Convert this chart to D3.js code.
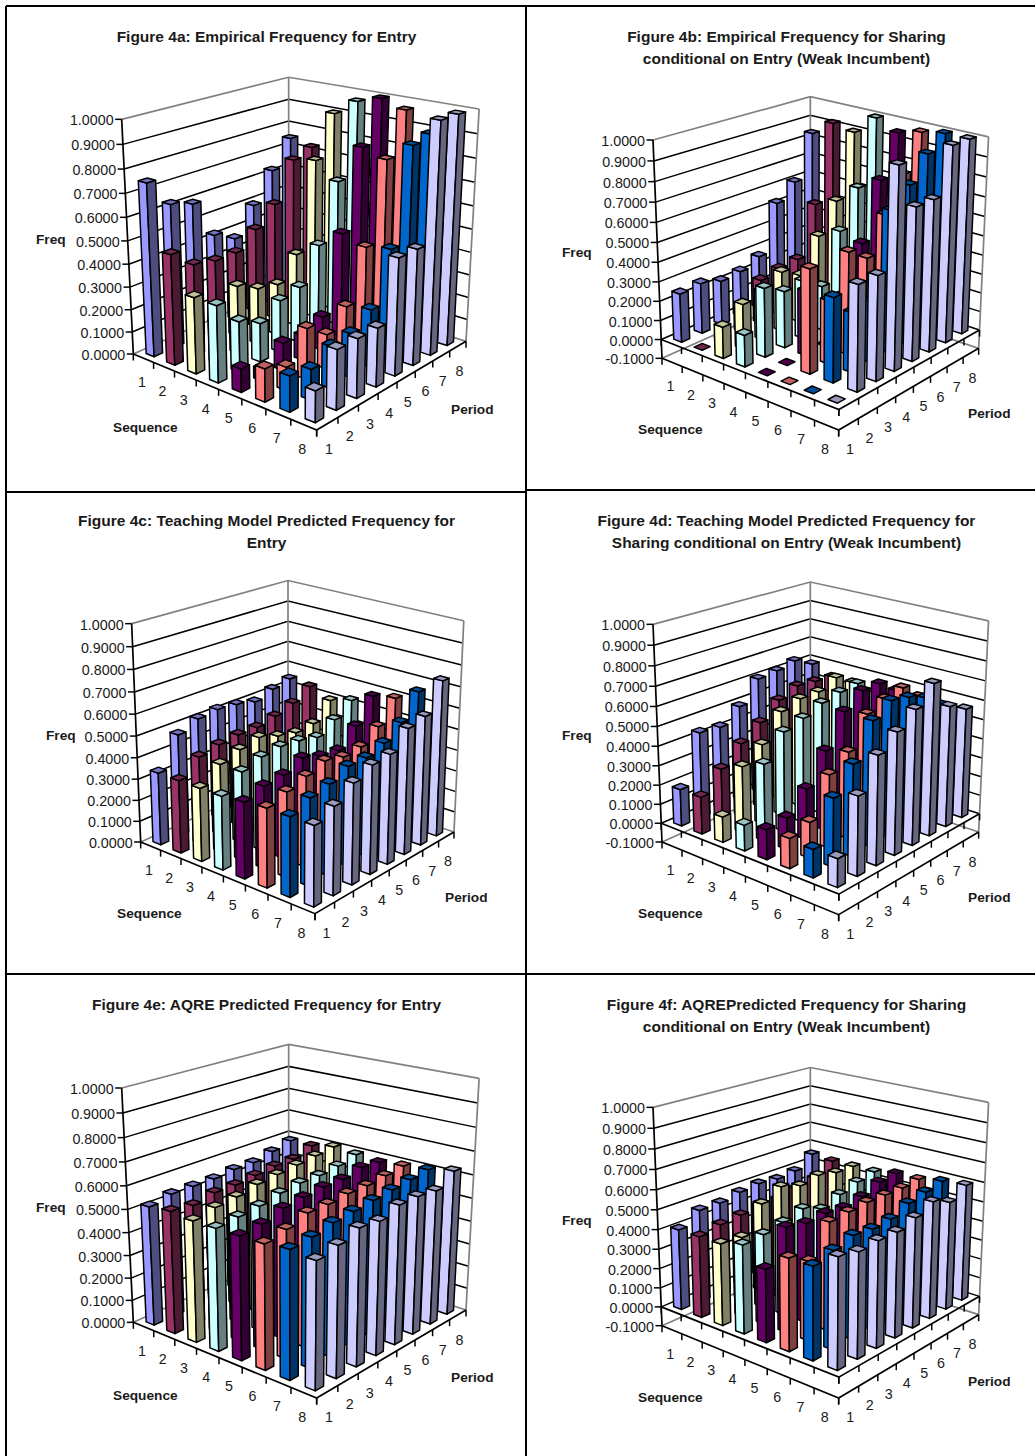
<!DOCTYPE html>
<html>
<head>
<meta charset="utf-8">
<style>
body { margin: 0; background: #fff; }
text { font-family: "Liberation Sans", Arial, sans-serif; fill: #1a1a1a; }
</style>
<script src="https://cdn.jsdelivr.net/npm/d3@7"></script>
</head>
<body>
<svg id="chart" width="1035" height="1456"></svg>
<script>
// Category labels and tick values
var sequences = [1, 2, 3, 4, 5, 6, 7, 8];
var periods = [1, 2, 3, 4, 5, 6, 7, 8];
var ticksPos = [0, 0.1, 0.2, 0.3, 0.4, 0.5, 0.6, 0.7, 0.8, 0.9, 1];
var ticksNeg = [-0.1, 0, 0.1, 0.2, 0.3, 0.4, 0.5, 0.6, 0.7, 0.8, 0.9, 1];
var seqColors = ["#9999FF", "#993366", "#FFFFCC", "#CCFFFF", "#660066", "#FF8080", "#0066CC", "#CCCCFF"];

// Frequencies, one row per sequence, one value per period
var fig4a = [
    [0.75, 0.63, 0.60, 0.43, 0.38, 0.50, 0.63, 0.75],
    [0.48, 0.40, 0.38, 0.38, 0.45, 0.53, 0.70, 0.73],
    [0.33, 0.20, 0.30, 0.25, 0.23, 0.33, 0.72, 0.90],
    [0.33, 0.22, 0.17, 0.23, 0.25, 0.40, 0.65, 0.97],
    [0.10, 0.05, 0.12, 0.11, 0.15, 0.48, 0.82, 1.00],
    [0.14, 0.10, 0.22, 0.15, 0.23, 0.45, 0.79, 0.97],
    [0.15, 0.13, 0.18, 0.19, 0.25, 0.47, 0.87, 0.89],
    [0.13, 0.25, 0.25, 0.25, 0.50, 0.50, 0.99, 0.99]
];
var fig4b = [
    [0.25, 0.26, 0.23, 0.24, 0.28, 0.53, 0.61, 0.84],
    [0.00, 0.01, 0.11, 0.23, 0.25, 0.26, 0.52, 0.92],
    [0.16, 0.23, 0.25, 0.31, 0.25, 0.42, 0.57, 0.90],
    [0.16, 0.35, 0.29, 0.30, 0.23, 0.48, 0.67, 1.00],
    [0.00, 0.00, 0.33, 0.00, 0.22, 0.45, 0.74, 0.95],
    [0.00, 0.52, 0.32, 0.52, 0.45, 0.63, 0.80, 0.98],
    [0.00, 0.42, 0.30, 0.31, 0.72, 0.81, 0.93, 1.00],
    [0.00, 0.52, 0.52, 1.00, 0.77, 0.77, 1.00, 1.00]
];
var fig4c = [
    [0.34, 0.48, 0.52, 0.53, 0.52, 0.50, 0.53, 0.55],
    [0.34, 0.41, 0.43, 0.44, 0.44, 0.46, 0.49, 0.54],
    [0.34, 0.41, 0.44, 0.46, 0.43, 0.41, 0.42, 0.50],
    [0.34, 0.41, 0.44, 0.45, 0.44, 0.42, 0.47, 0.53],
    [0.35, 0.38, 0.39, 0.43, 0.40, 0.39, 0.47, 0.58],
    [0.36, 0.39, 0.42, 0.45, 0.43, 0.44, 0.50, 0.60],
    [0.36, 0.40, 0.42, 0.46, 0.46, 0.49, 0.55, 0.66],
    [0.36, 0.40, 0.46, 0.50, 0.51, 0.59, 0.61, 0.74]
];
var fig4d = [
    [0.19, 0.44, 0.43, 0.50, 0.61, 0.62, 0.64, 0.59],
    [0.19, 0.29, 0.38, 0.45, 0.53, 0.57, 0.56, 0.55],
    [0.13, 0.34, 0.41, 0.54, 0.57, 0.57, 0.61, 0.55],
    [0.13, 0.39, 0.51, 0.54, 0.58, 0.60, 0.61, 0.53],
    [0.15, 0.16, 0.26, 0.41, 0.57, 0.64, 0.64, 0.57],
    [0.15, 0.18, 0.37, 0.44, 0.59, 0.63, 0.65, 0.57],
    [0.14, 0.34, 0.46, 0.63, 0.69, 0.67, 0.63, 0.56],
    [0.14, 0.39, 0.54, 0.61, 0.68, 0.77, 0.62, 0.57]
];
var fig4e = [
    [0.52, 0.54, 0.54, 0.54, 0.55, 0.55, 0.57, 0.59],
    [0.53, 0.52, 0.54, 0.54, 0.55, 0.56, 0.56, 0.59],
    [0.52, 0.54, 0.55, 0.57, 0.58, 0.59, 0.60, 0.61],
    [0.52, 0.53, 0.54, 0.56, 0.57, 0.57, 0.58, 0.60],
    [0.52, 0.53, 0.56, 0.57, 0.58, 0.58, 0.60, 0.59],
    [0.52, 0.54, 0.57, 0.57, 0.58, 0.58, 0.59, 0.60],
    [0.53, 0.54, 0.56, 0.57, 0.58, 0.59, 0.60, 0.61],
    [0.52, 0.54, 0.57, 0.56, 0.59, 0.59, 0.58, 0.63]
];
var fig4f = [
    [0.41, 0.47, 0.47, 0.49, 0.50, 0.49, 0.50, 0.56],
    [0.41, 0.43, 0.44, 0.45, 0.45, 0.47, 0.49, 0.55],
    [0.41, 0.40, 0.53, 0.58, 0.55, 0.57, 0.55, 0.55],
    [0.44, 0.45, 0.47, 0.50, 0.46, 0.50, 0.53, 0.55],
    [0.36, 0.52, 0.50, 0.51, 0.50, 0.52, 0.56, 0.57],
    [0.45, 0.39, 0.54, 0.55, 0.56, 0.56, 0.56, 0.57],
    [0.45, 0.48, 0.51, 0.50, 0.51, 0.55, 0.57, 0.59],
    [0.53, 0.51, 0.52, 0.52, 0.55, 0.59, 0.55, 0.60]
];

// Layout of each panel: box corners are measured on a 3x grid from the panel origin
var panels = [
    { values: fig4a, ticks: ticksPos, x: 0, y: 0, title: ["Figure 4a: Empirical Frequency for Entry"], titleX: 266.5, titleY: 41.5,
      L: [400, 1062], F: [950, 1290], R: [1398, 1024], B: [866, 855], T: [365, 358],
      freq: [36, 244], seq: [113, 431.5], per: [451, 414] },
    { values: fig4b, ticks: ticksNeg, x: 527, y: 0, title: ["Figure 4b: Empirical Frequency for Sharing", "conditional on Entry (Weak Incumbent)"], titleX: 786.5, titleY: 41.5,
      L: [405, 1075], F: [935, 1290], R: [1355, 1045], B: [850, 876], T: [378, 420],
      freq: [562, 256.5], seq: [638, 434], per: [968, 418] },
    { values: fig4c, ticks: ticksPos, x: 0, y: 492, title: ["Figure 4c: Teaching Model Predicted Frequency for", "Entry"], titleX: 266.5, titleY: 525.5,
      L: [422, 1050], F: [945, 1265], R: [1362, 1020], B: [864, 851], T: [395, 395],
      freq: [46, 740], seq: [117, 918], per: [445, 902] },
    { values: fig4d, ticks: ticksNeg, x: 527, y: 492, title: ["Figure 4d: Teaching Model Predicted Frequency for", "Sharing conditional on Entry (Weak Incumbent)"], titleX: 786.5, titleY: 525.5,
      L: [405, 1050], F: [935, 1268], R: [1355, 1020], B: [850, 851], T: [378, 397],
      freq: [562, 740], seq: [638, 918], per: [968, 902] },
    { values: fig4e, ticks: ticksPos, x: 0, y: 974, title: ["Figure 4e: AQRE Predicted Frequency for Entry"], titleX: 266.5, titleY: 1009.5,
      L: [400, 1045], F: [950, 1272], R: [1398, 1008], B: [866, 837], T: [365, 342],
      freq: [36, 1212], seq: [113, 1400], per: [451, 1382] },
    { values: fig4f, ticks: ticksNeg, x: 527, y: 974, title: ["Figure 4f: AQREPredicted Frequency for Sharing", "conditional on Entry (Weak Incumbent)"], titleX: 786.5, titleY: 1009.5,
      L: [405, 1055], F: [935, 1272], R: [1355, 1022], B: [850, 858], T: [378, 400],
      freq: [562, 1224.5], seq: [638, 1402], per: [968, 1386] }
];

var svg = d3.select("#chart");
var path = d3.line();

// Sequence runs along left corner -> front corner, period along front corner -> right corner
var xScale = d3.scaleBand().domain(sequences).range([0, 1]).paddingInner(0.61).paddingOuter(0.305);
var zScale = d3.scaleBand().domain(periods).range([0, 1]).paddingInner(0.61).paddingOuter(0.305);

// Perspective mapping of the unit box, solved from the measured corners
function makeProjection(p) {
    var a1 = p.R[0] - p.F[0], b1 = p.R[0] - p.B[0], r1 = p.F[0] + p.B[0] - p.L[0] - p.R[0];
    var a2 = p.R[1] - p.F[1], b2 = p.R[1] - p.B[1], r2 = p.F[1] + p.B[1] - p.L[1] - p.R[1];
    var det = a1 * b2 - a2 * b1;
    var c0 = (r1 * b2 - r2 * b1) / det;
    var c1 = (a1 * r2 - a2 * r1) / det;
    var c2 = (p.T[0] - p.L[0]) / (p.B[0] - p.T[0]);
    return function(u, v, w) {
        var d = 1 + c0 * u + c1 * v + c2 * w;
        var px = (p.L[0] + u * (p.F[0] * (1 + c0) - p.L[0]) + v * (p.B[0] * (1 + c1) - p.L[0]) + w * (p.T[0] * (1 + c2) - p.L[0])) / d;
        var py = (p.L[1] + u * (p.F[1] * (1 + c0) - p.L[1]) + v * (p.B[1] * (1 + c1) - p.L[1]) + w * (p.T[1] * (1 + c2) - p.L[1])) / d;
        return [p.x + px / 3, p.y + py / 3];
    };
}

function shade(color, k) {
    var c = d3.rgb(color);
    return d3.rgb(c.r * k, c.g * k, c.b * k).formatHex();
}

function drawPanel(p) {
    var g = svg.append("g");
    var project = makeProjection(p);
    var yMin = p.ticks[0];
    var yScale = d3.scaleLinear().domain([yMin, 1]).range([0, 1]);

    // Gridlines on the two back walls
    p.ticks.forEach(function(t) {
        var w = yScale(t);
        var edge = t === yMin || t === 1;
        g.append("path")
            .attr("d", path([project(0, 0, w), project(0, 1, w), project(1, 1, w)]))
            .attr("fill", "none")
            .attr("stroke", edge ? "#808080" : "#000")
            .attr("stroke-width", edge ? 1.7 : 1.5);
    });
    [[0, 1], [1, 1]].forEach(function(c) {
        g.append("path")
            .attr("d", path([project(c[0], c[1], 0), project(c[0], c[1], 1)]))
            .attr("stroke", "#808080")
            .attr("stroke-width", 1.7);
    });

    // Value axis with ticks and labels
    g.append("path")
        .attr("d", path([project(0, 0, 0), project(0, 0, 1)]))
        .attr("stroke", "#000")
        .attr("stroke-width", 1.7);
    p.ticks.forEach(function(t) {
        var pt = project(0, 0, yScale(t));
        g.append("path")
            .attr("d", path([pt, [pt[0] - 6.5, pt[1]]]))
            .attr("stroke", "#000")
            .attr("stroke-width", 1.5);
        g.append("text")
            .attr("x", pt[0] - 8)
            .attr("y", pt[1] + 6)
            .attr("text-anchor", "end")
            .attr("font-size", 14.3)
            .text(t.toFixed(4));
    });

    // Floor edges with category ticks, at the box floor and again at zero
    var levels = yMin < 0 ? [yMin, 0] : [0];
    levels.forEach(function(level) {
        var w = yScale(level);
        g.append("path")
            .attr("d", path([project(0, 0, w), project(1, 0, w), project(1, 1, w)]))
            .attr("fill", "none")
            .attr("stroke", "#000")
            .attr("stroke-width", 1.7);
        d3.range(9).forEach(function(i) {
            var a = project(i / 8, 0, w);
            var b = project(1, i / 8, w);
            [a, b].forEach(function(pt) {
                g.append("path")
                    .attr("d", path([pt, [pt[0], pt[1] + 6.5]]))
                    .attr("stroke", "#000")
                    .attr("stroke-width", 1.5);
            });
        });
    });

    // Category labels sit below the lower axis edge
    var floorW = yScale(yMin);
    sequences.forEach(function(s, i) {
        var pt = project((i + 0.5) / 8, 0, floorW);
        g.append("text")
            .attr("x", pt[0] - 1.5)
            .attr("y", pt[1] + 29)
            .attr("text-anchor", "middle")
            .attr("font-size", 14.3)
            .text(s);
    });
    periods.forEach(function(d, i) {
        var pt = project(1, (i + 0.5) / 8, floorW);
        g.append("text")
            .attr("x", pt[0] + 1.5)
            .attr("y", pt[1] + 30)
            .attr("text-anchor", "middle")
            .attr("font-size", 14.3)
            .text(d);
    });

    // Bars, painted from the back corner to the front corner
    var bars = [];
    sequences.forEach(function(s, i) {
        periods.forEach(function(d, j) {
            bars.push({ seq: s, period: d, i: i, j: j, value: p.values[i][j] });
        });
    });
    bars.sort(function(a, b) { return a.i - b.i || b.j - a.j; });

    var base = yScale(0);
    var bar = g.selectAll("g.bar")
        .data(bars)
        .enter()
        .append("g")
        .attr("class", "bar")
        .attr("stroke", "#000")
        .attr("stroke-width", 1.5)
        .attr("stroke-linejoin", "round");

    function corners(d) {
        return {
            u0: xScale(d.seq), u1: xScale(d.seq) + xScale.bandwidth(),
            v0: zScale(d.period), v1: zScale(d.period) + zScale.bandwidth(),
            w: yScale(d.value)
        };
    }
    // Left face
    bar.filter(function(d) { return d.value > 0; })
        .append("path")
        .attr("fill", function(d) { return seqColors[d.i]; })
        .attr("d", function(d) {
            var c = corners(d);
            return path([project(c.u0, c.v0, base), project(c.u1, c.v0, base), project(c.u1, c.v0, c.w), project(c.u0, c.v0, c.w)]) + "Z";
        });
    // Right face
    bar.filter(function(d) { return d.value > 0; })
        .append("path")
        .attr("fill", function(d) { return shade(seqColors[d.i], 0.5); })
        .attr("d", function(d) {
            var c = corners(d);
            return path([project(c.u1, c.v0, base), project(c.u1, c.v1, base), project(c.u1, c.v1, c.w), project(c.u1, c.v0, c.w)]) + "Z";
        });
    // Top face
    bar.append("path")
        .attr("fill", function(d) { return shade(seqColors[d.i], 0.76); })
        .attr("d", function(d) {
            var c = corners(d);
            return path([project(c.u0, c.v0, c.w), project(c.u1, c.v0, c.w), project(c.u1, c.v1, c.w), project(c.u0, c.v1, c.w)]) + "Z";
        });

    // Titles and axis names
    p.title.forEach(function(line, i) {
        g.append("text")
            .attr("x", p.titleX)
            .attr("y", p.titleY + i * 22)
            .attr("text-anchor", "middle")
            .attr("font-size", 15.5)
            .attr("font-weight", "bold")
            .text(line);
    });
    [["Freq", p.freq], ["Sequence", p.seq], ["Period", p.per]].forEach(function(a) {
        g.append("text")
            .attr("x", a[1][0])
            .attr("y", a[1][1])
            .attr("font-size", 13.7)
            .attr("font-weight", "bold")
            .text(a[0]);
    });
}

panels.forEach(drawPanel);

// Table rules around the panels
var rules = [[6, 6, 1035, 6], [6, 6, 6, 1456], [526, 6, 526, 1456], [6, 492, 526, 492], [526, 490, 1035, 490], [6, 974, 1035, 974]];
svg.selectAll("line.rule")
    .data(rules)
    .enter()
    .append("line")
    .attr("class", "rule")
    .attr("x1", function(d) { return d[0]; })
    .attr("y1", function(d) { return d[1]; })
    .attr("x2", function(d) { return d[2]; })
    .attr("y2", function(d) { return d[3]; })
    .attr("stroke", "#000")
    .attr("stroke-width", 2);
</script>
</body>
</html>
